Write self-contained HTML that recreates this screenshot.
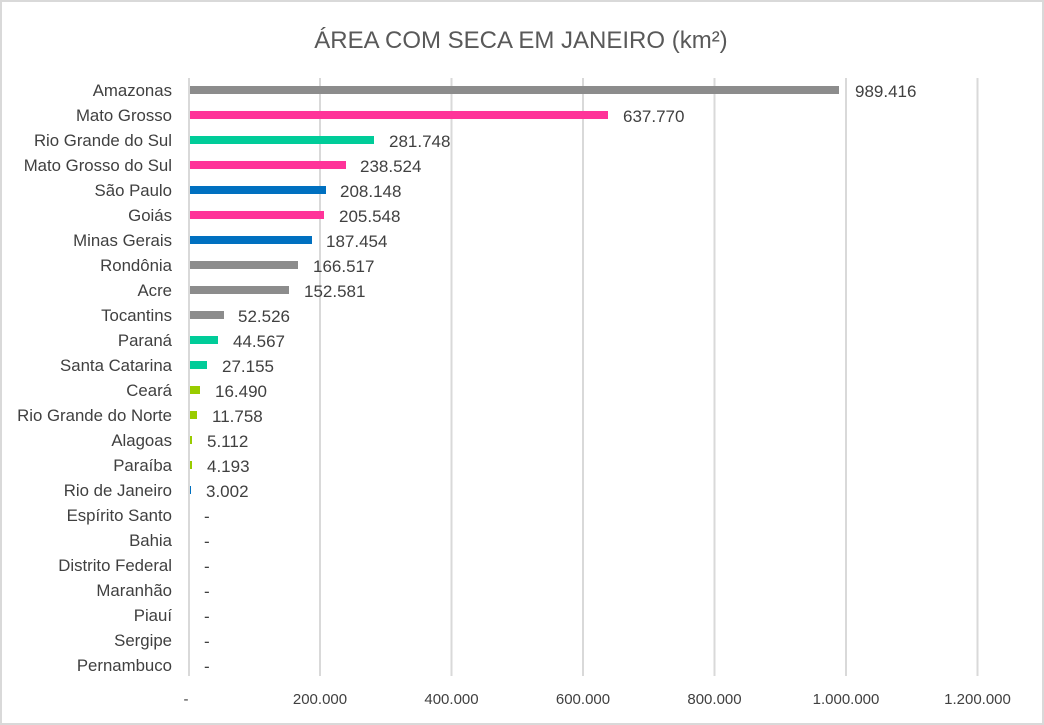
<!DOCTYPE html>
<html><head><meta charset="utf-8"><style>
body{margin:0;background:#fff}
svg{display:block}
text{font-family:"Liberation Sans",sans-serif;fill:#404040}
</style></head><body>
<svg width="1044" height="725" viewBox="0 0 1044 725">
<rect x="1" y="1" width="1042" height="723" fill="#fff" stroke="#d9d9d9" stroke-width="2"/>
<text x="521" y="48" text-anchor="middle" font-size="24" style="fill:#595959">ÁREA COM SECA EM JANEIRO (km²)</text>
<g stroke="#d9d9d9" stroke-width="2">
<line x1="189" y1="78" x2="189" y2="676"/>
<line x1="320" y1="78" x2="320" y2="676"/>
<line x1="451.5" y1="78" x2="451.5" y2="676"/>
<line x1="583" y1="78" x2="583" y2="676"/>
<line x1="714.5" y1="78" x2="714.5" y2="676"/>
<line x1="846" y1="78" x2="846" y2="676"/>
<line x1="977.5" y1="78" x2="977.5" y2="676"/>
</g>
<g font-size="15" text-anchor="middle">
<text x="186" y="704">-</text>
<text x="320" y="704">200.000</text>
<text x="451.5" y="704">400.000</text>
<text x="583" y="704">600.000</text>
<text x="714.5" y="704">800.000</text>
<text x="846" y="704">1.000.000</text>
<text x="977.5" y="704">1.200.000</text>
</g>
<g font-size="16.8" text-anchor="end">
<text x="172" y="96">Amazonas</text>
<text x="172" y="121">Mato Grosso</text>
<text x="172" y="146">Rio Grande do Sul</text>
<text x="172" y="171">Mato Grosso do Sul</text>
<text x="172" y="196">São Paulo</text>
<text x="172" y="221">Goiás</text>
<text x="172" y="246">Minas Gerais</text>
<text x="172" y="271">Rondônia</text>
<text x="172" y="296">Acre</text>
<text x="172" y="321">Tocantins</text>
<text x="172" y="346">Paraná</text>
<text x="172" y="371">Santa Catarina</text>
<text x="172" y="396">Ceará</text>
<text x="172" y="421">Rio Grande do Norte</text>
<text x="172" y="446">Alagoas</text>
<text x="172" y="471">Paraíba</text>
<text x="172" y="496">Rio de Janeiro</text>
<text x="172" y="521">Espírito Santo</text>
<text x="172" y="546">Bahia</text>
<text x="172" y="571">Distrito Federal</text>
<text x="172" y="596">Maranhão</text>
<text x="172" y="621">Piauí</text>
<text x="172" y="646">Sergipe</text>
<text x="172" y="671">Pernambuco</text>
</g>
<g>
<rect x="190" y="86" width="649" height="8" fill="#8c8c8c"/>
<rect x="190" y="111" width="418" height="8" fill="#ff3399"/>
<rect x="190" y="136" width="184" height="8" fill="#00cc99"/>
<rect x="190" y="161" width="156" height="8" fill="#ff3399"/>
<rect x="190" y="186" width="136" height="8" fill="#0070c0"/>
<rect x="190" y="211" width="134" height="8" fill="#ff3399"/>
<rect x="190" y="236" width="122" height="8" fill="#0070c0"/>
<rect x="190" y="261" width="108" height="8" fill="#8c8c8c"/>
<rect x="190" y="286" width="99" height="8" fill="#8c8c8c"/>
<rect x="190" y="311" width="34" height="8" fill="#8c8c8c"/>
<rect x="190" y="336" width="28" height="8" fill="#00cc99"/>
<rect x="190" y="361" width="17" height="8" fill="#00cc99"/>
<rect x="190" y="386" width="10" height="8" fill="#99cc00"/>
<rect x="190" y="411" width="7" height="8" fill="#99cc00"/>
<rect x="190" y="436" width="2" height="8" fill="#99cc00"/>
<rect x="190" y="461" width="2" height="8" fill="#99cc00"/>
<rect x="190" y="486" width="1" height="8" fill="#0070c0"/>
</g>
<g font-size="17">
<text x="855" y="97">989.416</text>
<text x="623" y="122">637.770</text>
<text x="389" y="147">281.748</text>
<text x="360" y="172">238.524</text>
<text x="340" y="197">208.148</text>
<text x="339" y="222">205.548</text>
<text x="326" y="247">187.454</text>
<text x="313" y="272">166.517</text>
<text x="304" y="297">152.581</text>
<text x="238" y="322">52.526</text>
<text x="233" y="347">44.567</text>
<text x="222" y="372">27.155</text>
<text x="215" y="397">16.490</text>
<text x="212" y="422">11.758</text>
<text x="207" y="447">5.112</text>
<text x="207" y="472">4.193</text>
<text x="206" y="497">3.002</text>
<text x="204" y="522">-</text>
<text x="204" y="547">-</text>
<text x="204" y="572">-</text>
<text x="204" y="597">-</text>
<text x="204" y="622">-</text>
<text x="204" y="647">-</text>
<text x="204" y="672">-</text>
</g>
</svg>
</body></html>
